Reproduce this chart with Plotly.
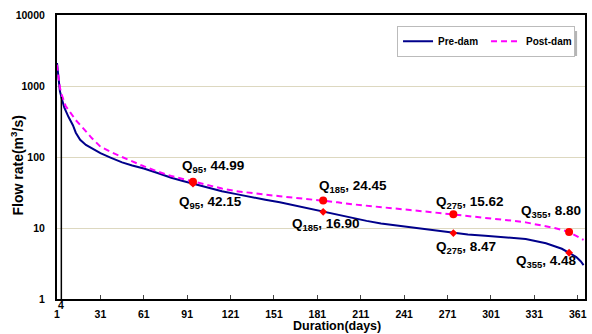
import math
import plotly.graph_objects as go

# Flow duration curves (daily flow, m3/s) before and after dam construction
pre_days = [1, 2, 3, 4, 6, 9, 12, 14, 17, 21, 26, 31, 38, 46, 53, 61, 70, 80, 88, 95,
            105, 115, 125, 135, 145, 155, 165, 175, 185, 195, 205, 215, 225, 235, 245,
            255, 265, 275, 285, 297, 310, 325, 339, 345, 350, 355, 360, 363, 365]
pre_flow = [2100, 1200, 850, 700, 500, 365, 280, 220, 175, 148, 128, 113, 98, 84, 76, 69,
            60, 51, 46, 42.15, 37, 33, 30, 27.2, 25, 23, 20.8, 18.7, 16.9, 15.2, 13.8,
            12.6, 11.6, 10.9, 10.3, 9.7, 9.0, 8.47, 8.1, 7.8, 7.5, 7.0, 6.1, 5.6, 5.1,
            4.48, 3.9, 3.4, 3.0]

post_days = [1, 2, 3, 4, 5, 7, 10, 14, 21, 25, 31, 38, 46, 53, 61, 70, 80, 88, 95, 105,
             115, 125, 135, 145, 155, 165, 175, 185, 195, 205, 215, 225, 235, 245, 255,
             265, 275, 285, 295, 305, 315, 325, 335, 345, 355, 360, 365]
post_flow = [2000, 1250, 950, 780, 680, 520, 430, 330, 230, 185, 140, 118, 100, 86, 74, 63,
             54, 49, 44.99, 40, 36, 33, 31, 29.5, 28, 26.7, 25.5, 24.45, 23, 21.6, 20.5,
             19.5, 18.6, 17.9, 17.1, 16.3, 15.62, 15, 14.2, 13.4, 12.7, 12.0, 11, 10,
             8.8, 7.8, 6.8]

# Exceedance points highlighted on each curve
q_days = [95, 185, 275, 355]
q_pre = [42.15, 16.90, 8.47, 4.48]
q_post = [44.99, 24.45, 15.62, 8.80]

x_ticks = [1, 31, 61, 91, 121, 151, 181, 211, 241, 271, 301, 331, 361]
y_ticks = [1, 10, 100, 1000, 10000]

FONT = "Arial, Liberation Sans, sans-serif"
TICK = dict(family=FONT, size=10.5, color="black", weight="bold")
LABEL = dict(family=FONT, size=13.5, color="black", weight="bold")
TITLE = dict(family=FONT, size=12.5, color="black", weight="bold")

fig = go.Figure()
fig.add_trace(go.Scatter(x=pre_days, y=pre_flow, mode="lines", name="Pre-dam",
                         line=dict(color="#00008B", width=2)))
fig.add_trace(go.Scatter(x=post_days, y=post_flow, mode="lines", name="Post-dam",
                         line=dict(color="#FF00FF", width=2, dash="6px,4px")))
fig.add_trace(go.Scatter(x=q_days, y=q_post, mode="markers", showlegend=False,
                         marker=dict(color="#FF0000", size=8)))
fig.add_trace(go.Scatter(x=q_days, y=q_pre, mode="markers", showlegend=False,
                         marker=dict(color="#FF0000", size=6, symbol="diamond")))

# Label offsets (pixels) relative to each point; annotation y on a log axis is log10
post_shift = [(20, 15), (30, 14), (17, 12), (-18, 20)]
pre_shift = [(18, -19), (3, -13), (13, -14), (-23, -9)]
for vals, shifts in ((q_post, post_shift), (q_pre, pre_shift)):
    for d, v, (dx, dy) in zip(q_days, vals, shifts):
        fig.add_annotation(x=d, y=math.log10(v), xref="x", yref="y", showarrow=False,
                           text=f"Q<sub>{d}</sub>, {v:.2f}", xshift=dx, yshift=dy,
                           font=LABEL)

# Day-4 marker line and its label
fig.add_shape(type="line", x0=4, x1=4, y0=1, y1=pre_flow[pre_days.index(4)],
              xref="x", yref="y", line=dict(color="black", width=1.5))
fig.add_annotation(x=4, y=0, xref="x", yref="paper", text="4", showarrow=False,
                   yanchor="top", yshift=2, font=TICK)

# Axis titles
fig.add_annotation(x=0.53, y=0, xref="paper", yref="paper", yanchor="middle",
                   yshift=-27, text="Duration(days)", showarrow=False, font=TITLE)
fig.add_annotation(x=0, y=0.47, xref="paper", yref="paper", xanchor="center",
                   xshift=-40, text="Flow rate(m<sup>3</sup>/s)", textangle=-90,
                   showarrow=False, font=dict(family=FONT, size=14, color="black",
                                              weight="bold"))

# Legend shadow
fig.add_shape(type="rect", xref="paper", yref="paper", x0=0.65, x1=0.985, y0=0.856, y1=0.944,
              line=dict(width=0), fillcolor="rgba(120,120,120,0.55)", layer="below")

fig.update_layout(
    width=592, height=334,
    margin=dict(l=57, r=7, t=15, b=35),
    paper_bgcolor="white", plot_bgcolor="white",
    font=dict(family=FONT, size=12, color="black"),
    legend=dict(orientation="h", x=0.644, y=0.962, xanchor="left", yanchor="top",
                bgcolor="white", bordercolor="#BBBBBB", borderwidth=1,
                font=dict(family=FONT, size=10, color="black", weight="bold"),
                itemwidth=30, entrywidth=43, tracegroupgap=0),
    xaxis=dict(range=[1, 366], tickvals=x_ticks, ticks="inside", ticklen=4,
               tickcolor="#444", showgrid=False, zeroline=False, automargin=False,
               showline=True, linecolor="black", linewidth=2, mirror=True,
               tickfont=TICK, ticklabelstandoff=4),
    yaxis=dict(type="log", range=[0, 4], tickvals=y_ticks,
               ticktext=[str(v) for v in y_ticks], ticks="", automargin=False,
               showgrid=True, gridcolor="#DDD8C0", gridwidth=1, zeroline=False,
               showline=True, linecolor="black", linewidth=2, mirror=True,
               tickfont=TICK, ticklabelstandoff=8),
)

fig.write_html("out.html")
